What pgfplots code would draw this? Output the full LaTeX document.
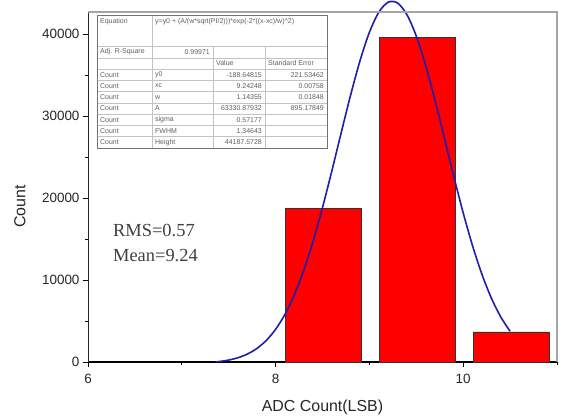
\documentclass[border=0pt]{standalone}
\usepackage{pgfplots}
\pgfplotsset{compat=1.18}
\usepackage{fontspec}
\setmainfont{Liberation Sans}
\newfontfamily\notefont{Liberation Serif}

\definecolor{fitblue}{RGB}{30,30,170}
\definecolor{tblgrid}{RGB}{195,195,195}
\definecolor{tbltext}{RGB}{95,95,95}
\definecolor{framegray}{RGB}{165,165,165}

\begin{document}
\begin{tikzpicture}
\begin{axis}[
  scale only axis, width=469bp, height=350bp,
  xmin=6, xmax=11, ymin=0, ymax=42680,
  clip=false,
  axis x line*=bottom, axis y line*=left,
  x axis line style={line width=1.4bp, black},
  y axis line style={line width=0.8bp, black!85},
  xtick={6,8,10}, minor xtick={7,9,11},
  ytick={0,10000,20000,30000,40000},
  minor ytick={5000,15000,25000,35000},
  tick align=outside, major tick length=5bp, minor tick length=3bp,
  tick style={black, line width=0.8bp},
  scaled ticks=false,
  /pgf/number format/set thousands separator={},
  /pgf/number format/assume math mode=true,
  ticklabel style={font=\fontsize{13.5}{15}\selectfont, text=black!85},
  xticklabel style={yshift=-4bp},
  xlabel={ADC Count(LSB)},
  ylabel={Count},
  xlabel style={at={(axis description cs:0.5,-0.1286)}, anchor=center,
                font=\fontsize{16}{18}\selectfont, text=black!85},
  ylabel style={at={(axis description cs:-0.145,0.445)}, anchor=center,
                font=\fontsize{16}{18}\selectfont, text=black!85},
]
% histogram bins
\addplot[ybar, bar width=0.81, fill=red, draw=black!80, line width=0.6bp]
  coordinates {(8.51,18720) (9.51,39550) (10.51,3660)};

% Gaussian fit: y0=-188.65, xc=9.24248, w=1.14355, A=63330.88
\addplot[fitblue, line width=1.6bp, smooth, no markers] coordinates {
  (7.36,7) (7.4,57) (7.5,236) (7.6,525) (7.7,972) (7.8,1645) (7.9,2619)
  (8.0,3981) (8.1,5814) (8.2,8194) (8.3,11170) (8.4,14735) (8.5,18828)
  (8.6,23315) (8.7,27983) (8.8,32564) (8.9,36742) (9.0,40199) (9.1,42648)
  (9.2,43877) (9.3,43776) (9.4,42354) (9.5,39737) (9.6,36153) (9.7,31894)
  (9.8,27281) (9.9,22623) (10.0,18183) (10.1,14162) (10.2,10685)
  (10.3,7799) (10.4,5505) (10.5,3746)
};

\draw[framegray, line width=1.4bp]
  (rel axis cs:0,1) -- (rel axis cs:1,1) -- (rel axis cs:1,0);

\node[anchor=base west, inner sep=0, text=black!75,
      font=\notefont\fontsize{18.5}{20}\selectfont]
  at (axis cs:6.266,15244) {RMS=0.57};
\node[anchor=base west, inner sep=0, text=black!75,
      font=\notefont\fontsize{18.5}{20}\selectfont]
  at (axis cs:6.266,12195) {Mean=9.24};
\end{axis}

% fit results table
\begin{scope}[x=1bp, y=-1bp, shift={(current axis.north west)},
  every node/.style={inner sep=0, text=tbltext, font=\fontsize{7}{8}\selectfont}]
  \fill[white] (9,3) rectangle (239,136);
  \foreach \yy in {34,46,57,68.3,79.6,90.9,102.1,113.4,124.7}
    \draw[tblgrid, line width=0.5bp] (9,\yy) -- (239,\yy);
  \draw[tblgrid, line width=0.5bp] (64,3) -- (64,136);
  \draw[tblgrid, line width=0.5bp] (125,34) -- (125,136);
  \draw[tblgrid, line width=0.5bp] (177,34) -- (177,136);
  \draw[black!55, line width=0.6bp] (9,3) rectangle (239,136);

  \node[anchor=north west] at (12,6) {Equation};
  \node[anchor=north west] at (67,6) {y=y0 + (A/(w*sqrt(PI/2)))*exp(-2*((x-xc)/w)\^{}2)};
  \node[anchor=west] at (12,40) {Adj. R-Square};
  \node[anchor=east] at (122,40) {0.99971};
  \node[anchor=west] at (128,51.5) {Value};
  \node[anchor=west] at (180,51.5) {Standard Error};

  \foreach \c/\p/\v/\e in {62.65/y0/-188.64815/221.53462,
                           73.95/xc/9.24248/0.00758,
                           85.25/w/1.14355/0.01848,
                           96.5/A/63330.87932/895.17849,
                           107.75/sigma/0.57177/,
                           119.05/FWHM/1.34643/,
                           130.35/Height/44187.5728/} {
    \node[anchor=west] at (12,\c) {Count};
    \node[anchor=west] at (67,\c) {\p};
    \node[anchor=east] at (174,\c) {\v};
    \node[anchor=east] at (236,\c) {\e};
  }
\end{scope}

\pgfresetboundingbox
\path ([shift={(-88bp,-55bp)}]current axis.south west)
  rectangle ([shift={(4bp,12bp)}]current axis.north east);
\end{tikzpicture}
\end{document}
